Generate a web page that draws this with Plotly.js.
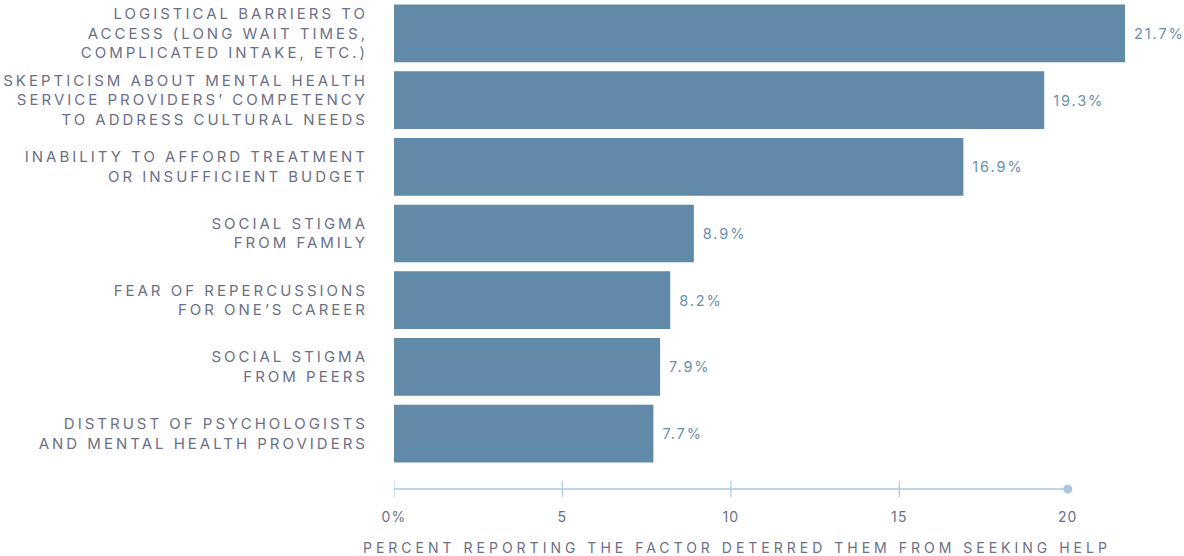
<!DOCTYPE html>
<html>
<head>
<meta charset="utf-8">
<script src="https://cdn.plot.ly/plotly-3.0.1.min.js"></script>
<style>
  html, body { margin: 0; padding: 0; background: #fff; }
  #chart { width: 1184px; height: 556px; }
  .ytick text { letter-spacing: 3px; }
  .xtick text { letter-spacing: 1.2px; }
  .bartext { letter-spacing: 1.9px; }
  .annotation-text { letter-spacing: 4px; }
</style>
</head>
<body>
<div id="chart"></div>
<script>
const categories = [
  "LOGISTICAL BARRIERS TO<br>ACCESS (LONG WAIT TIMES,<br>COMPLICATED INTAKE, ETC.)",
  "SKEPTICISM ABOUT MENTAL HEALTH<br>SERVICE PROVIDERS’ COMPETENCY<br>TO ADDRESS CULTURAL NEEDS",
  "INABILITY TO AFFORD TREATMENT<br>OR INSUFFICIENT BUDGET",
  "SOCIAL STIGMA<br>FROM FAMILY",
  "FEAR OF REPERCUSSIONS<br>FOR ONE’S CAREER",
  "SOCIAL STIGMA<br>FROM PEERS",
  "DISTRUST OF PSYCHOLOGISTS<br>AND MENTAL HEALTH PROVIDERS"
];
const values = [21.7, 19.3, 16.9, 8.9, 8.2, 7.9, 7.7];
const xTickVals = [0, 5, 10, 15, 20];
const xTickText = ["0%", "5", "10", "15", "20"];
const tickMarks = [0, 5, 10, 15];
const axisEnd = 20;
const xTitle = "PERCENT REPORTING THE FACTOR DETERRED THEM FROM SEEKING HELP";

const barColor = "#6189a8";
const textColor = "#6b7087";
const valueColor = "#6a90ae";
const axisColor = "#a8c9de";
const fontFamily = "Inter, 'Noto Sans', sans-serif";

const positions = categories.map((_, i) => i);

const trace = {
  type: "bar",
  orientation: "h",
  x: values,
  y: positions,
  marker: { color: barColor },
  width: 0.865,
  text: values.map(v => "\u00a0" + v.toFixed(1) + "%"),
  textposition: "outside",
  textfont: { family: fontFamily, size: 14.5, color: valueColor },
  cliponaxis: false,
  hoverinfo: "skip"
};

const shapes = [
  { type: "line", xref: "x", yref: "paper", x0: 0, x1: axisEnd, y0: 0, y1: 0,
    line: { color: axisColor, width: 1.5 }, layer: "above" },
  { type: "circle", xref: "x", yref: "paper", xsizemode: "pixel", ysizemode: "pixel",
    xanchor: axisEnd, yanchor: 0, x0: -4.5, x1: 4.5, y0: -4.5, y1: 4.5,
    fillcolor: axisColor, line: { width: 0 }, layer: "above" }
].concat(tickMarks.map(t => ({
  type: "line", xref: "x", yref: "paper", ysizemode: "pixel", yanchor: 0,
  x0: t, x1: t, y0: -8, y1: 8, line: { color: axisColor, width: 1.2 }, layer: "above"
})));

const layout = {
  width: 1184, height: 556,
  margin: { l: 394, r: 0, t: 0, b: 67 },
  paper_bgcolor: "#ffffff",
  plot_bgcolor: "#ffffff",
  showlegend: false,
  font: { family: fontFamily, color: textColor },
  xaxis: {
    range: [0, 23.45],
    tickvals: xTickVals,
    ticktext: xTickText,
    ticks: "",
    showline: false,
    showgrid: false,
    zeroline: false,
    tickfont: { family: fontFamily, size: 14, color: textColor },
    ticklabelstandoff: 18,
    fixedrange: true
  },
  yaxis: {
    range: [6.83, -0.5],
    tickvals: positions,
    ticktext: categories,
    ticks: "",
    showline: false,
    showgrid: false,
    zeroline: false,
    tickfont: { family: fontFamily, size: 15, color: textColor },
    ticklabelstandoff: 25,
    fixedrange: true
  },
  shapes: shapes,
  annotations: [{
    text: xTitle, xref: "x", yref: "paper", x: axisEnd / 2, y: 0,
    yshift: -58, xshift: 6, showarrow: false, xanchor: "center", yanchor: "middle",
    font: { family: fontFamily, size: 14, color: textColor }
  }]
};

Plotly.newPlot("chart", [trace], layout, { displayModeBar: false, staticPlot: true });
</script>
</body>
</html>
